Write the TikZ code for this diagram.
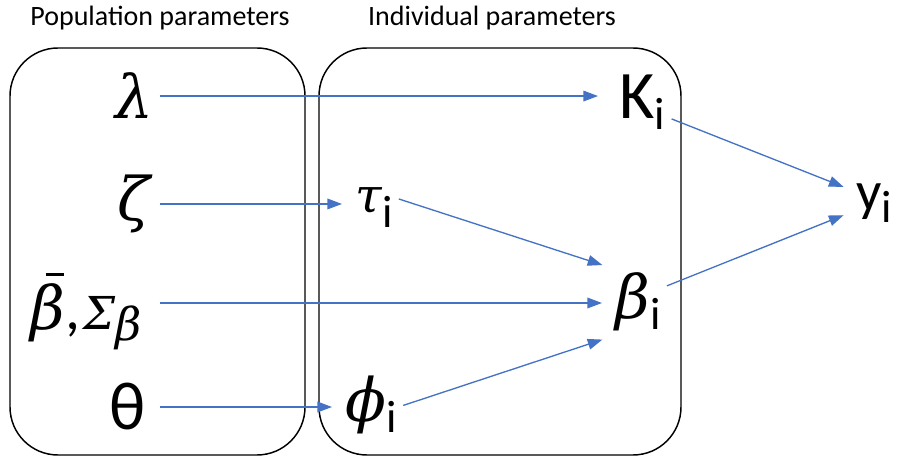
\RequirePackage{fix-cm}
\documentclass[tikz,border=0pt]{standalone}
\usepackage{amsmath}
\usepackage{fontspec}
\setmainfont{Carlito}
\newfontfamily\grk{DejaVu Serif}
\usetikzlibrary{arrows.meta}

\definecolor{arrowblue}{HTML}{4472C4}

\tikzset{
  param/.style={font=\fontsize{51}{60}\selectfont, inner sep=4pt},
  greek/.style={font=\grk\itshape\fontsize{45}{54}\selectfont, inner sep=4pt},
  heading/.style={font=\fontsize{21}{25}\selectfont, inner sep=0pt},
  groupbox/.style={draw, line width=1.1pt, rounded corners=36pt},
  arr/.style={draw=arrowblue, line width=1pt, shorten >=6pt,
    -{Triangle[length=11pt,width=8pt]}}
}
\newcommand{\sub}{$_{\text{\normalfont\fontsize{34}{40}\selectfont i}}$}
\newcommand{\betabar}{\ooalign{β\cr\hfil\raisebox{0.9em}{\rule{0.3em}{0.045em}}\hspace{0.03em}\cr}}

\begin{document}
\begin{tikzpicture}[x=0.75pt,y=-0.75pt]
\useasboundingbox (0,0) rectangle (897,459);
% group boxes and headings
\draw[groupbox] (10,48) rectangle (305,455);
\draw[groupbox] (319,48) rectangle (681,455);
\node[heading] (pophead) at (160,18) {Population parameters};
\node[heading] (indhead) at (492,18) {Individual parameters};
% population parameters
\node[greek, anchor=base] (lam) at (135,119) {λ};
\node[greek, anchor=base] (zeta) at (134,220.5) {ζ};
\node[greek, anchor=base, text height=45pt, text depth=4.5pt] (bbar) at (86,330)
  {\betabar{\normalfont ,}\hspace{2pt}{\fontsize{34}{40}\selectfont Σ\raisebox{-8pt}{β}}};
\node[param, anchor=base] (theta) at (128,430) {θ};
% individual parameters
\node[param, anchor=base west] (K) at (614,119) {K\sub};
\node[greek, anchor=base west, font=\grk\itshape\fontsize{36}{44}\selectfont]
  (tau) at (350,213) {τ\sub};
\node[greek, anchor=base west] (beta) at (610,319) {β\sub};
\node[greek, anchor=base west] (phi) at (340,422) {ϕ\sub};
% observation
\node[param, anchor=base west, font=\fontsize{42}{50}\selectfont]
  (yi) at (851,211) {y\sub};
% connectors
\draw[arr, shorten >=12pt] (lam.east) -- (lam.east -| K.west);
\draw[arr] (zeta.east -| lam.east) -- (zeta.east -| tau.west);
\draw[arr] (bbar.east -| lam.east) -- (bbar.east -| beta.west);
\draw[arr] (theta.east -| lam.east) -- (theta.east -| phi.west);
\draw[arr] (tau.20) -- (beta.north west);
\draw[arr] (phi.east) -- (beta.south west);
\draw[arr] (K.-30) -- (yi.150);
\draw[arr] (beta.30) -- (yi.200);
\end{tikzpicture}
\end{document}
